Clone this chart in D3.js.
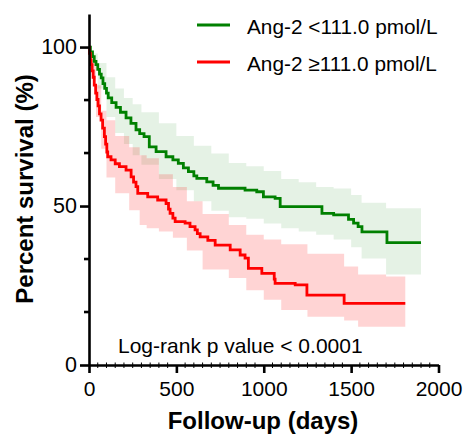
<!DOCTYPE html>
<html>
<head>
<meta charset="utf-8">
<script src="https://cdn.jsdelivr.net/npm/d3@7"></script>
<style>
  body { margin: 0; background: #fff; }
  .chart text { font-family: Arial, "Liberation Sans", sans-serif; fill: #000; }
  .axis path, .axis line { stroke: #000; }
</style>
</head>
<body>
<svg class="chart"></svg>
<script>
// data
var groupNames = ['Ang-2 <111.0 pmol/L', 'Ang-2 \u2265111.0 pmol/L'];

var lowDays = [0, 8, 20, 30, 40, 50, 60, 70, 80, 90, 100, 110, 130, 155, 180, 212, 240, 269, 290, 315, 345, 384, 441, 480, 511, 540, 569, 600, 617, 674, 710, 741, 893, 960, 998, 1065, 1094, 1333, 1400, 1485, 1514, 1540, 1562, 1705, 1900];
var lowSurv = [100, 98.5, 97, 95.5, 94.5, 93, 91.5, 90.3, 88.5, 87, 85.5, 84, 82.5, 81, 79.5, 77.7, 76, 74, 72.8, 71.8, 68.6, 67.1, 65.5, 64.5, 63.4, 62, 60.8, 59.5, 58.7, 57.6, 56.5, 55.6, 55, 54.5, 52.9, 52.4, 49.8, 47.7, 47.2, 45.8, 44.6, 43.5, 41.9, 38.5, 38.5];

var highDays = [0, 3, 8, 12, 18, 24, 30, 38, 45, 52, 60, 69, 78, 88, 95, 102, 107, 126, 150, 174, 212, 241, 255, 269, 279, 336, 393, 441, 455, 464, 480, 493, 550, 578, 607, 620, 636, 680, 722, 808, 865, 893, 912, 989, 1060, 1065, 1180, 1247, 1460, 1810];
var highSurv = [100, 98, 96, 94.5, 92.5, 90.5, 88, 85.5, 83.5, 81.5, 79, 77, 74.5, 71.8, 69.5, 67, 65.5, 64.5, 63.3, 62.4, 61.3, 59.2, 57.5, 56.1, 54, 52.9, 51.9, 50.8, 49, 47.7, 46.2, 45.1, 44.6, 43.5, 42.5, 41.3, 40.3, 39.2, 37.7, 36.2, 34.6, 33.6, 30.4, 28.8, 27, 25.7, 25.2, 22, 19.4, 19.4];

// 95% confidence bands
var lowBandDays = [0, 20, 50, 100, 150, 200, 250, 300, 400, 500, 600, 700, 800, 900, 1000, 1100, 1200, 1300, 1400, 1500, 1560, 1700, 1900];
var lowBandLower = [100, 95, 87, 78, 73, 69.5, 66, 63, 58.5, 55, 51.5, 48.5, 46.5, 46, 44.5, 43, 42, 41, 39.5, 37, 33.5, 28.5, 27];
var lowBandUpper = [100, 98, 95, 90.5, 87, 84, 82, 79.5, 76, 72, 69, 66.5, 63.5, 62.5, 61, 58.5, 57.5, 56, 55.5, 53.5, 51, 49.3, 48.7];

var highBandDays = [0, 15, 40, 70, 100, 150, 230, 290, 330, 400, 480, 560, 650, 800, 900, 1000, 1100, 1250, 1460, 1540, 1700, 1810];
var highBandLower = [100, 90, 78, 68, 59, 54, 48.7, 44, 43, 42, 40, 36, 30, 27.4, 23.5, 20.5, 17.3, 15.2, 14, 12, 12, 12];
var highBandUpper = [100, 96, 88, 80, 77, 72, 68.5, 66, 65, 60, 56, 51.5, 47.5, 44, 41, 39.5, 38, 35, 31, 28.5, 27.8, 27.8];

var xTickValues = [0, 500, 1000, 1500, 2000];
var yTickValues = [0, 50, 100];

// chart
var width = 464;
var height = 436;

var chart = d3.select('.chart')
    .attr('width', width)
    .attr('height', height);

var x = d3.scaleLinear()
    .domain([0, 2000])
    .range([89, 438.5]);

var y = d3.scaleLinear()
    .domain([0, 110.4])
    .range([365, 14]);

var colors = ['#008000', '#ff0000'];
var bandColors = ['rgba(0,128,0,0.1)', 'rgba(255,0,0,0.17)'];

function zip(days, vals) {
  return days.map(function(d, i) { return [d, vals[i]]; });
}

var bands = [
  lowBandDays.map(function(d, i) { return [d, lowBandLower[i], lowBandUpper[i]]; }),
  highBandDays.map(function(d, i) { return [d, highBandLower[i], highBandUpper[i]]; })
];
var curves = [zip(lowDays, lowSurv), zip(highDays, highSurv)];

var area = d3.area()
    .curve(d3.curveStepAfter)
    .x(function(d) { return x(d[0]); })
    .y0(function(d) { return y(d[1]); })
    .y1(function(d) { return y(d[2]); });

var line = d3.line()
    .curve(d3.curveStepAfter)
    .x(function(d) { return x(d[0]); })
    .y(function(d) { return y(d[1]); });

chart.selectAll('.band')
    .data(bands)
  .enter().append('path')
    .attr('class', 'band')
    .attr('d', area)
    .attr('fill', function(d, i) { return bandColors[i]; });

chart.selectAll('.curve')
    .data(curves)
  .enter().append('path')
    .attr('class', 'curve')
    .attr('d', line)
    .attr('fill', 'none')
    .attr('stroke', function(d, i) { return colors[i]; })
    .attr('stroke-width', 2.8);

// axes
var xAxis = d3.axisBottom(x)
    .tickValues(xTickValues)
    .tickFormat(d3.format('d'))
    .tickSize(8)
    .tickSizeOuter(0)
    .tickPadding(8);

var gx = chart.append('g')
    .attr('class', 'x axis')
    .attr('transform', 'translate(0,' + y(0) + ')')
    .call(xAxis);
gx.selectAll('path, line').attr('stroke-width', 2.6);
gx.selectAll('text').style('font-size', '21px');

// minor x ticks every 50 days
gx.selectAll('.minor')
    .data(d3.range(50, 2000, 50).filter(function(d) { return d % 500 != 0; }))
  .enter().append('line')
    .attr('class', 'minor')
    .attr('x1', function(d) { return x(d); })
    .attr('x2', function(d) { return x(d); })
    .attr('y1', -2.5)
    .attr('y2', 3)
    .attr('stroke', '#000')
    .attr('stroke-width', 1);

var yAxis = d3.axisLeft(y)
    .tickValues(yTickValues)
    .tickSize(9)
    .tickSizeOuter(0)
    .tickPadding(3);

var gy = chart.append('g')
    .attr('class', 'y axis')
    .attr('transform', 'translate(' + x(0) + ',0)')
    .call(yAxis);
gy.selectAll('path, line').attr('stroke-width', 2.6);
gy.selectAll('text').style('font-size', '21.5px');

gy.selectAll('.minor')
    .data([100 / 6, 200 / 6, 400 / 6, 500 / 6])
  .enter().append('line')
    .attr('class', 'minor')
    .attr('x1', -5)
    .attr('x2', 0)
    .attr('y1', function(d) { return y(d); })
    .attr('y2', function(d) { return y(d); })
    .attr('stroke', '#000')
    .attr('stroke-width', 2.6);

// axis labels
chart.append('text')
    .attr('x', 263)
    .attr('y', 429)
    .attr('text-anchor', 'middle')
    .style('font-size', '24px')
    .style('font-weight', 'bold')
    .text('Follow-up (days)');

chart.append('text')
    .attr('transform', 'translate(33,189) rotate(-90)')
    .attr('text-anchor', 'middle')
    .style('font-size', '24px')
    .style('font-weight', 'bold')
    .text('Percent survival (%)');

// legend
var legend = chart.selectAll('.legend')
    .data(groupNames)
  .enter().append('g')
    .attr('class', 'legend')
    .attr('transform', function(d, i) { return 'translate(197,' + (25 + i * 37) + ')'; });

legend.append('line')
    .attr('x1', 0)
    .attr('x2', 33)
    .attr('stroke', function(d, i) { return colors[i]; })
    .attr('stroke-width', 2.8);

legend.append('text')
    .attr('x', 50)
    .attr('y', 9)
    .style('font-size', '20.8px')
    .text(function(d) { return d; });

chart.append('text')
    .attr('x', 118)
    .attr('y', 353)
    .style('font-size', '21px')
    .text('Log-rank p value < 0.0001');
</script>
</body>
</html>
